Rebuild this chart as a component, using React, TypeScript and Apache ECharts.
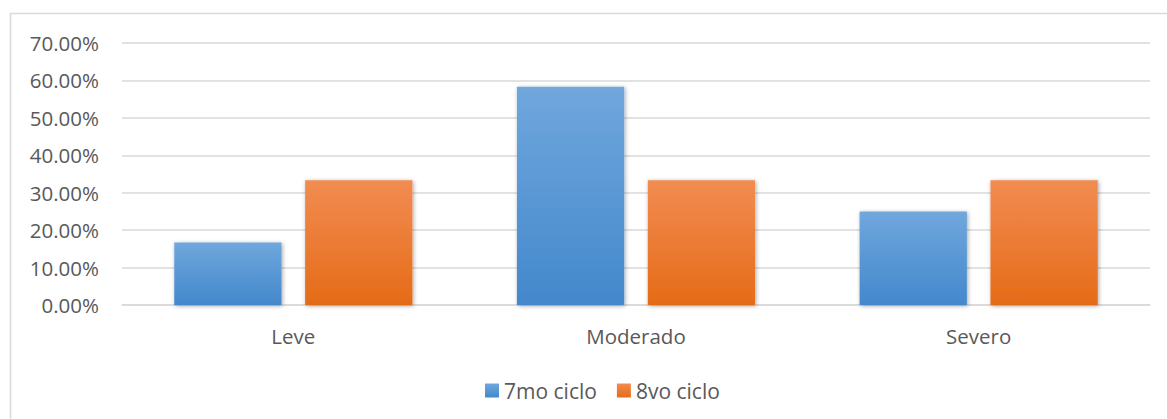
import React, { useEffect, useRef } from "react";
import * as echarts from "echarts";

const categories = ["Leve", "Moderado", "Severo"];
const series7mo = [16.67, 58.33, 25.0];
const series8vo = [33.33, 33.33, 33.33];
const seriesNames = ["7mo ciclo", "8vo ciclo"];

const blueGrad = new echarts.graphic.LinearGradient(0, 0, 0, 1, [
  { offset: 0, color: "#70a7dd" },
  { offset: 1, color: "#4388cc" },
]);
const orangeGrad = new echarts.graphic.LinearGradient(0, 0, 0, 1, [
  { offset: 0, color: "#f28c52" },
  { offset: 1, color: "#e56b17" },
]);

export default function App() {
  const ref = useRef<HTMLDivElement>(null);
  useEffect(() => {
    if (!ref.current) return;
    const chart = echarts.init(ref.current, null, { renderer: "svg" });
    const font = "'Open Sans', Lato, sans-serif";
    chart.setOption({
      animation: false,
      textStyle: { fontFamily: font },
      graphic: [
        {
          type: "rect",
          shape: { x: 10.5, y: 13.5, width: 1180, height: 430 },
          style: { fill: "none", stroke: "#d9d9d9", lineWidth: 1.5 },
          silent: true,
          z: -1,
        },
      ],
      grid: { left: 122, right: 17, top: 43, bottom: 114, containLabel: false },
      legend: {
        data: seriesNames,
        left: 480,
        top: 375,
        icon: "rect",
        itemWidth: 14,
        itemHeight: 14,
        itemGap: 20,
        textStyle: { fontSize: 21, color: "#595959", fontFamily: font },
      },
      xAxis: {
        type: "category",
        data: categories,
        axisLine: { lineStyle: { color: "#d9d9d9", width: 1.5 } },
        axisTick: { show: false },
        axisLabel: { fontSize: 20.5, color: "#595959", margin: 20, fontFamily: font },
      },
      yAxis: {
        type: "value",
        min: 0,
        max: 70,
        interval: 10,
        axisLine: { show: false },
        axisTick: { show: false },
        splitLine: { lineStyle: { color: "#d9d9d9", width: 1.5 } },
        axisLabel: {
          fontSize: 20.5,
          color: "#595959",
          margin: 23,
          fontFamily: font,
          formatter: (v: number) => v.toFixed(2) + "%",
        },
      },
      series: [
        {
          name: seriesNames[0],
          type: "bar",
          data: series7mo,
          barGap: "22%",
          barCategoryGap: "30.5%",
          itemStyle: {
            color: blueGrad,
            shadowBlur: 4,
            shadowColor: "rgba(0,0,0,0.35)",
            shadowOffsetX: 1,
            shadowOffsetY: 1,
          },
        },
        {
          name: seriesNames[1],
          type: "bar",
          data: series8vo,
          barGap: "22%",
          barCategoryGap: "30.5%",
          itemStyle: {
            color: orangeGrad,
            shadowBlur: 4,
            shadowColor: "rgba(0,0,0,0.35)",
            shadowOffsetX: 1,
            shadowOffsetY: 1,
          },
        },
      ],
    });
    return () => chart.dispose();
  }, []);
  return (
    <div
      ref={ref}
      style={{ position: "fixed", left: 0, top: 0, width: 1167, height: 419, background: "#fff" }}
    />
  );
}
